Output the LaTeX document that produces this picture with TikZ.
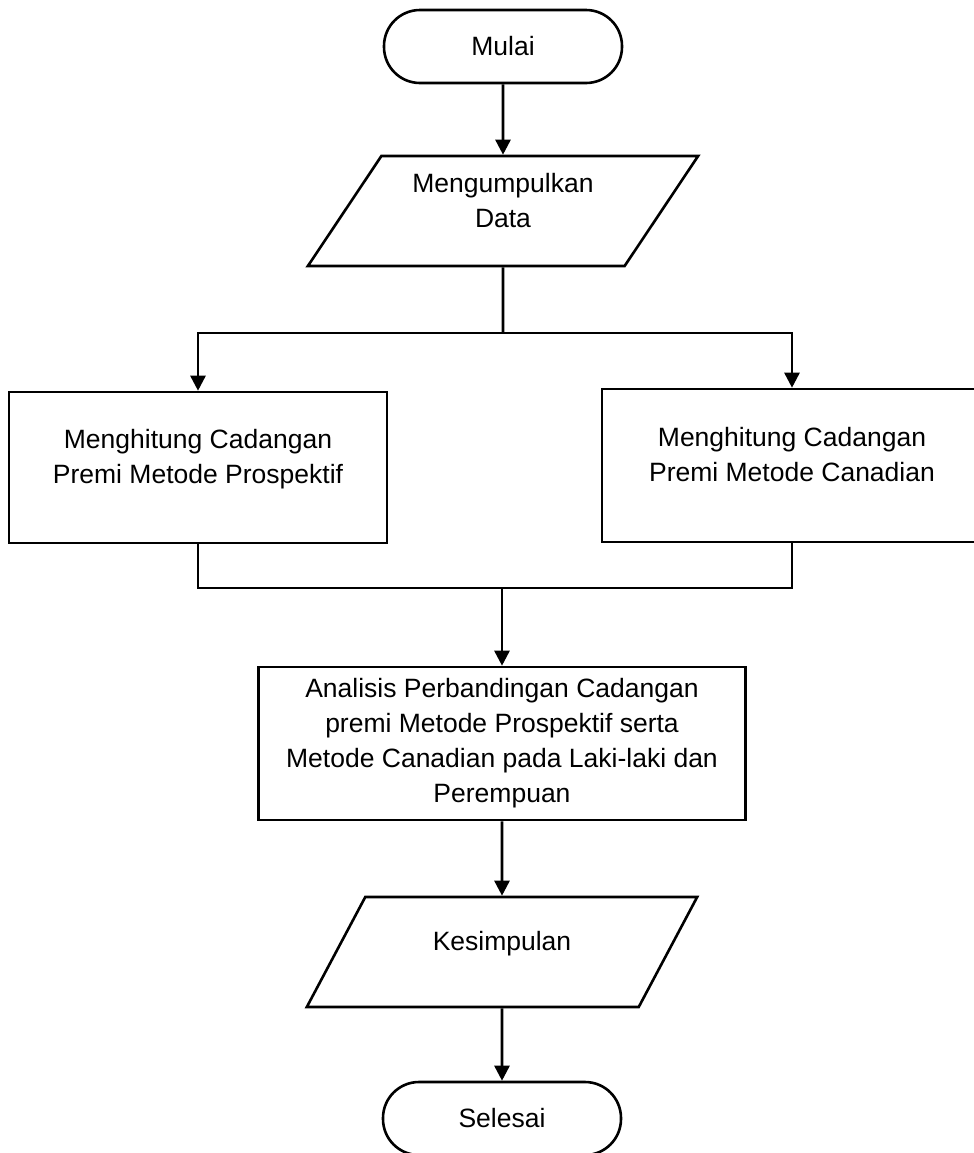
\documentclass[tikz,border=0pt]{standalone}
\usepackage{fontspec}
\setmainfont{Liberation Sans}
\usetikzlibrary{arrows.meta, positioning, shapes.geometric, calc}

\begin{document}
\begin{tikzpicture}[
    x=0.5pt, y=-0.5pt,
    every node/.style={font=\fontsize{13.25pt}{17.5pt}\selectfont},
    terminal/.style={rectangle, rounded corners=18pt, draw=black, fill=white, line width=1.3pt, minimum width=119pt, minimum height=36.5pt, inner sep=0pt},
    io/.style={trapezium, trapezium left angle=54.3, trapezium right angle=125.7, trapezium stretches=true, draw=black, fill=white, line width=1.3pt, minimum width=195.5pt, minimum height=55pt, inner sep=0pt, align=center, text depth=11pt},
    box/.style={rectangle, draw=black, fill=white, line width=1.3pt, align=center},
    line/.style={draw=black, line width=1.3pt, -{Triangle[length=7.5pt, width=7.5pt]}},
    wire/.style={draw=black, line width=1.3pt}
]
    \useasboundingbox (0,0) rectangle (974,1153);

    % Start
    \node[terminal] (T_MULAI) at (503,46.5) {Mulai};
    \node[io] (IO_DATA) at (503,211) {Mengumpulkan\\Data};

    % Two methods
    \node[box, minimum width=189pt, minimum height=75.5pt, text depth=11pt] (P_PROSP) at (198,467.5) {Menghitung Cadangan\\Premi Metode Prospektif};
    \node[box, minimum width=190pt, minimum height=76.5pt, text depth=11pt] (P_CANAD) at (792,465.5) {Menghitung Cadangan\\Premi Metode Canadian};

    % Analysis and end
    \node[box, minimum width=243.5pt, minimum height=76.5pt] (P_ANALISIS) at (502,743.5) {Analisis Perbandingan Cadangan\\premi Metode Prospektif serta\\Metode Canadian pada Laki-laki dan\\Perempuan};
    \node[io] (IO_KESIMPULAN) at (502,952) {Kesimpulan};
    \node[terminal] (T_SELESAI) at (502,1118.5) {Selesai};

    \coordinate (SPLIT) at (503,333);
    \coordinate (JOIN) at (502,588);

    % Connections
    \draw[line] (T_MULAI.south) -- (IO_DATA.north);
    \draw[wire] (IO_DATA.south) -- (SPLIT);
    \draw[line] (SPLIT) -| (P_PROSP.north);
    \draw[line] (SPLIT) -| (P_CANAD.north);
    \draw[wire] (P_PROSP.south) |- (JOIN) -| (P_CANAD.south);
    \draw[line] (JOIN) -- (P_ANALISIS.north);
    \draw[line] (P_ANALISIS.south) -- (IO_KESIMPULAN.north);
    \draw[line] (IO_KESIMPULAN.south) -- (T_SELESAI.north);
\end{tikzpicture}
\end{document}
